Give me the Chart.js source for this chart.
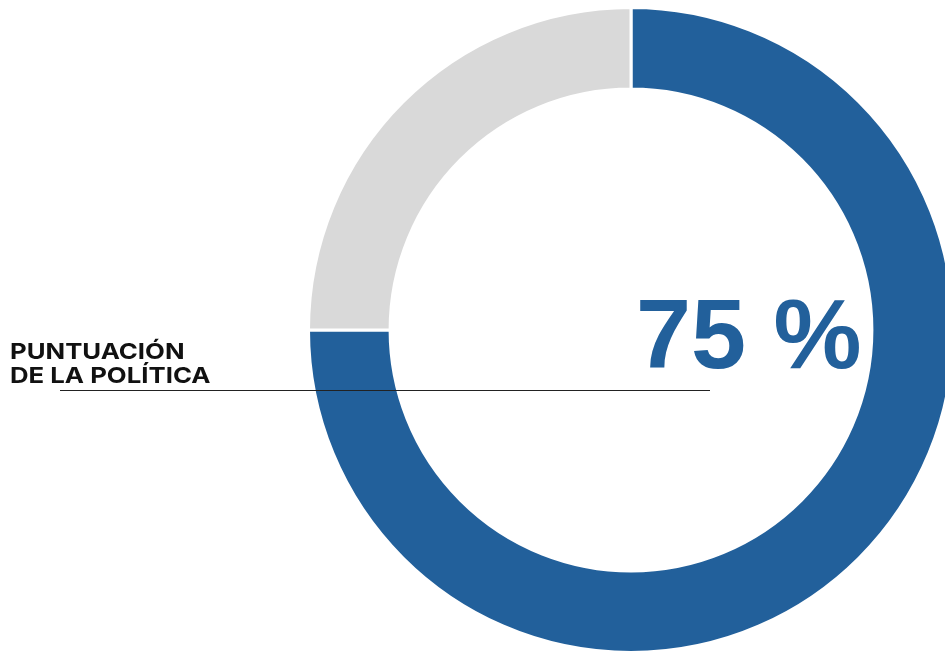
<!DOCTYPE html>
<html>
<head>
<meta charset="utf-8">
<script src="https://cdn.jsdelivr.net/npm/chart.js@4.4.0/dist/chart.umd.min.js"></script>
<style>
  html, body { margin: 0; padding: 0; background: #fff; overflow: hidden; }
  #wrap { position: absolute; left: 0; top: 0; width: 960px; height: 662px; }
</style>
</head>
<body>
<div id="wrap"><canvas id="chart"></canvas></div>
<script>
const labels = ["Puntuación", "Resto"];
const values = [75, 25];
const colors = ["#22609b", "#d9d9d9"];
const labelLines = ["PUNTUACIÓN", "DE LA POLÍTICA"];

// texts + leader line drawn on top of the doughnut
const overlay = {
  id: "overlay",
  afterDraw(chart) {
    const ctx = chart.ctx;
    ctx.save();
    ctx.strokeStyle = "#222";
    ctx.lineWidth = 1;
    ctx.beginPath();
    ctx.moveTo(60, 390.5);
    ctx.lineTo(710, 390.5);
    ctx.stroke();

    // the label font is a wide grotesque, so stretch Inter a bit
    ctx.save();
    ctx.translate(10, 0);
    ctx.scale(1.17, 1);
    ctx.fillStyle = "#111";
    ctx.font = "bold 22px Inter, 'Liberation Sans', sans-serif";
    ctx.textBaseline = "alphabetic";
    ctx.textAlign = "left";
    ctx.fillText(labelLines[0], 0, 359);
    ctx.fillText(labelLines[1], 0, 383);
    ctx.restore();

    ctx.fillStyle = colors[0];
    ctx.font = "bold 99px 'Liberation Sans', Arial, sans-serif";
    ctx.fillText(values[0] + " %", 636, 368);
    ctx.restore();
  }
};

new Chart(document.getElementById("chart"), {
  type: "doughnut",
  data: {
    labels: labels,
    datasets: [{
      data: values,
      backgroundColor: colors,
      borderColor: "#fff",
      borderWidth: 3,
      hoverOffset: 0
    }]
  },
  options: {
    responsive: true,
    maintainAspectRatio: false,
    animation: false,
    cutout: "74.7%",
    layout: { padding: { left: 307, top: 6, right: 5, bottom: 8 } },
    plugins: {
      legend: { display: false },
      tooltip: { enabled: false }
    }
  },
  plugins: [overlay]
});
</script>
</body>
</html>
